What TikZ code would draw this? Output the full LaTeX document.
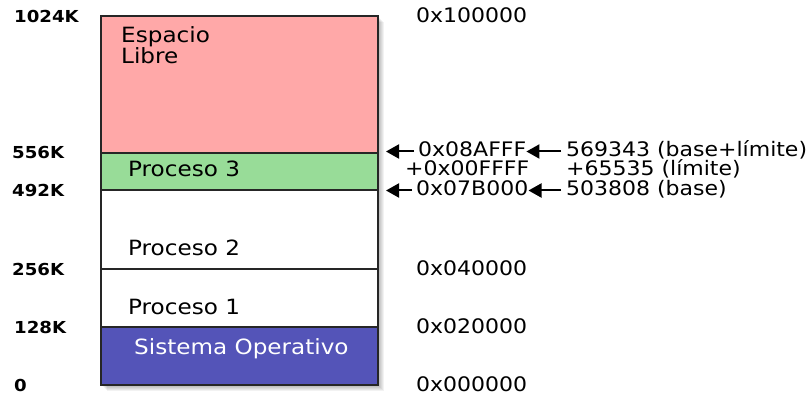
\documentclass[tikz,border=0pt]{standalone}
\usepackage{fontspec}
\setmainfont{DejaVu Sans}[FakeStretch=1.1]
\usetikzlibrary{arrows.meta}
\definecolor{libre}{RGB}{255,168,168}
\definecolor{proc3}{RGB}{152,220,152}
\definecolor{sisop}{RGB}{84,84,184}
\begin{document}
\begin{tikzpicture}
      [x=1pt,y=-1pt,
       region/.style={draw=black!85,line width=1.5pt},
       kbyte/.style={inner sep=0,anchor=base west,font=\fontsize{16.5}{16.5}\selectfont\bfseries},
       hex/.style={inner sep=0,anchor=base west,text height=11pt,text depth=0pt,font=\fontsize{20}{20}\selectfont},
       zone/.style={inner sep=0,anchor=base west,font=\fontsize{21}{20}\selectfont},
       arr/.style={-{Triangle[length=13pt,width=14pt]},line width=2pt}]
      \useasboundingbox (0,0) rectangle (811,395);
      \fill[white] (0,0) rectangle (811,395);

      % shadow
      \foreach \s in {1,...,6}
      \fill[black,opacity=0.05] (101+\s,16+\s) rectangle (378+\s,385+\s);

      \foreach \top/\bot/\col in {16/153/libre, 153/190/proc3, 190/269/white, 269/327/white, 327/385/sisop}
      \draw[region,fill=\col] (101,\top) rectangle (378,\bot);

      \node[zone,align=left,anchor=north west] (libre) at (121,26) {Espacio\\Libre};
      \node[zone] (p3) at (128,177) {Proceso 3};
      \node[zone] (p2) at (128,256) {Proceso 2};
      \node[zone] (p1) at (128,314) {Proceso 1};
      \node[zone,text=white] (so) at (134,354) {Sistema Operativo};

      \node[kbyte] (k1024) at (14,23) {1024K};
      \node[kbyte] (k556) at (12,159) {556K};
      \node[kbyte] (k492) at (12,197) {492K};
      \node[kbyte] (k256) at (12,276) {256K};
      \node[kbyte] (k128) at (14,334) {128K};
      \node[kbyte] (k0) at (14,391) {0};

      \node[hex] (h100) at (416,23) {0x100000};
      \node[hex] (hHi) at (418,157) {0x08AFFF};
      \node[hex] (hLim) at (405,176) {+0x00FFFF};
      \node[hex] (hLo) at (416,196) {0x07B000};
      \node[hex] (h040) at (416,276) {0x040000};
      \node[hex] (h020) at (416,334) {0x020000};
      \node[hex] (h000) at (416,391) {0x000000};

      \node[hex] (dHi) at (566,157) {569343 (base+límite)};
      \node[hex] (dLim) at (566,176) {+65535 (límite)};
      \node[hex] (dLo) at (566,196) {503808 (base)};

      \coordinate (edge) at (386,0);
      \foreach \from/\to in {dHi/hHi, dLo/hLo}
      \draw[arr,shorten <=5pt] (\from.west) -- (\to.east);
      \foreach \from in {hHi, hLo}
      \draw[arr,shorten <=4pt] (\from.west) -- (\from.west -| edge);
\end{tikzpicture}
\end{document}
